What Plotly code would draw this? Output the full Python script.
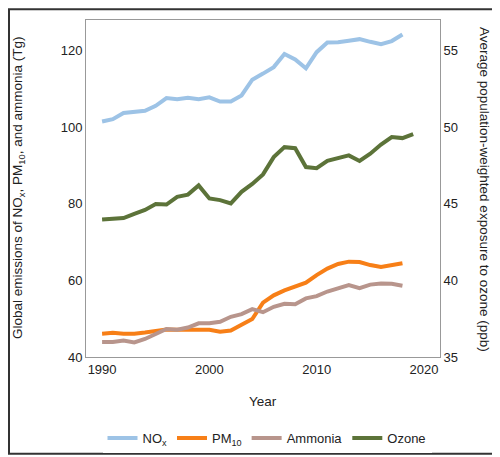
import plotly.graph_objects as go

years_main = list(range(1990, 2019))
years_ozone = list(range(1990, 2020))

nox = [101.5, 102.1, 103.7, 104.1, 104.3, 105.6, 107.6, 107.3, 107.7, 107.3,
       107.8, 106.7, 106.7, 108.3, 112.4, 114.0, 115.7, 119.1, 117.7, 115.4,
       119.6, 122.1, 122.2, 122.6, 123.0, 122.3, 121.7, 122.5, 124.2]
pm10 = [46.1, 46.3, 46.1, 46.1, 46.4, 46.9, 47.2, 47.1, 47.1, 47.0,
        47.1, 46.6, 46.9, 48.4, 49.9, 54.2, 56.1, 57.4, 58.4, 59.4,
        61.4, 63.1, 64.3, 64.9, 64.8, 64.0, 63.5, 63.9, 64.5]
ammonia = [43.9, 43.9, 44.3, 43.8, 44.7, 46.1, 47.3, 47.1, 47.7, 48.8,
           48.8, 49.2, 50.5, 51.2, 52.5, 51.7, 53.1, 53.9, 53.8, 55.3,
           55.9, 57.1, 58.0, 58.8, 58.0, 58.9, 59.2, 59.1, 58.6]
ozone = [43.97, 43.99, 44.07, 44.35, 44.6, 44.99, 44.95, 45.46, 45.6, 46.2,
         45.35, 45.24, 45.03, 45.78, 46.3, 46.92, 48.05, 48.7, 48.63, 47.4,
         47.33, 47.8, 48.0, 48.16, 47.8, 48.27, 48.87, 49.36, 49.29, 49.55]

names = ["NO<sub>x</sub>", "PM<sub>10</sub>", "Ammonia", "Ozone"]
colors = ["#9dc3e6", "#f77f17", "#b8958c", "#5c7339"]

FONT = "Liberation Sans, Arial, sans-serif"

fig = go.Figure()
fig.add_trace(go.Scatter(x=years_main, y=nox, name=names[0], mode="lines",
                         line=dict(color=colors[0], width=4)))
fig.add_trace(go.Scatter(x=years_main, y=pm10, name=names[1], mode="lines",
                         line=dict(color=colors[1], width=4)))
fig.add_trace(go.Scatter(x=years_main, y=ammonia, name=names[2], mode="lines",
                         line=dict(color=colors[2], width=4)))
fig.add_trace(go.Scatter(x=years_ozone, y=ozone, name=names[3], mode="lines",
                         yaxis="y2", line=dict(color=colors[3], width=4)))

W, H = 500, 457
L, R, T, B = 78, 68, 12, 100
pw, ph = W - L - R, H - T - B

def px(x):
    return (x - L) / pw

def py(y):
    return (H - B - y) / ph

fig.update_layout(
    width=W, height=H,
    margin=dict(l=L, r=R, t=T, b=B),
    paper_bgcolor="white", plot_bgcolor="white",
    font=dict(family=FONT, size=13, color="#222"),
    showlegend=True,
    legend=dict(orientation="h", x=px(259), xanchor="center", y=py(440), yanchor="middle",
                font=dict(size=13, family=FONT, color="#222"), itemwidth=30,
                traceorder="normal"),
    xaxis=dict(range=[1988.5, 2021.5], tickvals=[1990, 2000, 2010, 2020],
               showgrid=False, zeroline=False, showline=True, linecolor="#999",
               linewidth=1, mirror=True, ticks="", tickfont=dict(size=13)),
    yaxis=dict(range=[40, 128], tickvals=[40, 60, 80, 100, 120],
               showgrid=False, zeroline=False, showline=True, linecolor="#999",
               linewidth=1, ticks="", tickfont=dict(size=13)),
    yaxis2=dict(range=[35, 57], tickvals=[35, 40, 45, 50, 55], overlaying="y",
                side="right", showgrid=False, zeroline=False, showline=True,
                linecolor="#999", linewidth=1, ticks="", tickfont=dict(size=13)),
    annotations=[
        dict(text="Global emissions of NO<sub>x</sub>, PM<sub>10</sub>, and ammonia (Tg)",
             xref="paper", yref="paper", x=px(10), y=py(184), textangle=-90,
             showarrow=False, xanchor="center", yanchor="middle",
             font=dict(size=13.5, family=FONT, color="#222")),
        dict(text="Average population-weighted exposure to ozone (ppb)",
             xref="paper", yref="paper", x=px(476), y=py(185), textangle=90,
             showarrow=False, xanchor="center", yanchor="middle",
             font=dict(size=13.5, family=FONT, color="#222")),
        dict(text="Year", xref="paper", yref="paper", x=px(255), y=py(403),
             showarrow=False, xanchor="center", yanchor="middle",
             font=dict(size=13.5, family=FONT, color="#222")),
    ],
    shapes=[
        dict(type="rect", xref="paper", yref="paper",
             x0=px(1), x1=px(499), y0=py(456), y1=py(1),
             line=dict(color="#333", width=2), layer="above"),
    ],
)

fig.write_html("out.html")
